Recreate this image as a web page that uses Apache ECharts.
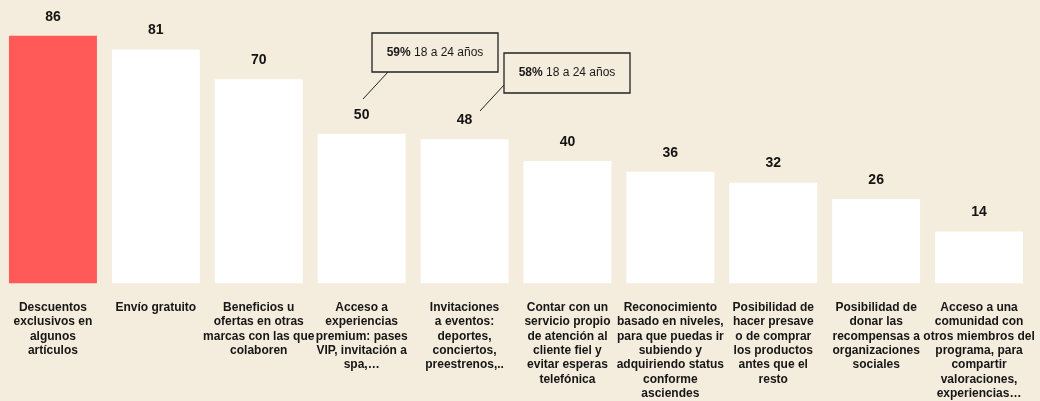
<!DOCTYPE html>
<html>
<head>
<meta charset="utf-8">
<script src="https://cdn.jsdelivr.net/npm/echarts@6/dist/echarts.min.js"></script>
<style>
html,body{margin:0;padding:0;background:#F4ECDC;}
#chart{width:1040px;height:401px;}
</style>
</head>
<body>
<div id="chart"></div>
<script>
const categories = [
  "Descuentos\nexclusivos en\nalgunos\nartículos",
  "Envío gratuito",
  "Beneficios u\nofertas en otras\nmarcas con las que\ncolaboren",
  "Acceso a\nexperiencias\npremium: pases\nVIP, invitación a\nspa,…",
  "Invitaciones\na eventos:\ndeportes,\nconciertos,\npreestrenos,..",
  "Contar con un\nservicio propio\nde atención al\ncliente fiel y\nevitar esperas\ntelefónica",
  "Reconocimiento\nbasado en niveles,\npara que puedas ir\nsubiendo y\nadquiriendo status\nconforme\nasciendes",
  "Posibilidad de\nhacer presave\no de comprar\nlos productos\nantes que el\nresto",
  "Posibilidad de\ndonar las\nrecompensas a\norganizaciones\nsociales",
  "Acceso a una\ncomunidad con\notros miembros del\nprograma, para\ncompartir\nvaloraciones,\nexperiencias…"
];
const values = [86, 81, 70, 50, 48, 40, 36, 32, 26, 14];
const callouts = [
  { pct: "59%", text: " 18 a 24 años" },
  { pct: "58%", text: " 18 a 24 años" }
];

const BG = '#F4ECDC';
const FONT = 'Liberation Sans, Arial, sans-serif';
const yMin = -5, yMax = 90;

const chart = echarts.init(document.getElementById('chart'), null, {renderer: 'canvas'});
const option = {
  backgroundColor: BG,
  animation: false,
  grid: { left: 1.5, right: 9.5, top: 25, bottom: 116 },
  xAxis: {
    type: 'category',
    data: categories,
    axisLine: { show: false },
    axisTick: { show: false },
    axisLabel: {
      interval: 0,
      margin: 17,
      fontFamily: FONT,
      fontSize: 12,
      fontWeight: 'bold',
      lineHeight: 14.4,
      color: '#161616',
      verticalAlign: 'top'
    }
  },
  yAxis: {
    type: 'value',
    min: yMin, max: yMax,
    show: false,
    splitLine: { show: false }
  },
  series: [{
    type: 'custom',
    data: values.map((v, i) => [i, v]),
    renderItem: function (params, api) {
      const i = api.value(0), v = api.value(1);
      const top = api.coord([i, v]);
      const base = api.coord([i, yMin]);
      const w = api.size([1, 0])[0] * 0.855;
      return {
        type: 'group',
        children: [
          { type: 'rect',
            shape: { x: top[0] - w / 2, y: top[1], width: w, height: base[1] - top[1] },
            style: { fill: i === 0 ? '#FF5A57' : '#FFFFFF' } },
          { type: 'text',
            style: { text: String(v), x: top[0], y: top[1] - 19,
              align: 'center', verticalAlign: 'middle',
              font: 'bold 14px ' + FONT, fill: '#141414' } }
        ]
      };
    }
  }],
  graphic: [
    { type: 'rect', shape: { x: 372, y: 33, width: 126, height: 39 },
      style: { fill: BG, stroke: '#222', lineWidth: 1.3 } },
    { type: 'text', x: 435, y: 52.5,
      style: { text: '{b|' + callouts[0].pct + '}{r|' + callouts[0].text + '}',
        align: 'center', verticalAlign: 'middle',
        rich: { b: { fontFamily: FONT, fontSize: 12, fontWeight: 'bold', fill: '#1a1a1a' },
                r: { fontFamily: FONT, fontSize: 12, fill: '#1a1a1a' } } } },
    { type: 'line', shape: { x1: 388, y1: 72, x2: 363, y2: 99 },
      style: { stroke: '#222', lineWidth: 1 } },
    { type: 'rect', shape: { x: 504, y: 53, width: 126, height: 40 },
      style: { fill: BG, stroke: '#222', lineWidth: 1.3 } },
    { type: 'text', x: 567, y: 73,
      style: { text: '{b|' + callouts[1].pct + '}{r|' + callouts[1].text + '}',
        align: 'center', verticalAlign: 'middle',
        rich: { b: { fontFamily: FONT, fontSize: 12, fontWeight: 'bold', fill: '#1a1a1a' },
                r: { fontFamily: FONT, fontSize: 12, fill: '#1a1a1a' } } } },
    { type: 'line', shape: { x1: 504, y1: 85, x2: 480, y2: 111 },
      style: { stroke: '#222', lineWidth: 1 } }
  ]
};
chart.setOption(option);
</script>
</body>
</html>
